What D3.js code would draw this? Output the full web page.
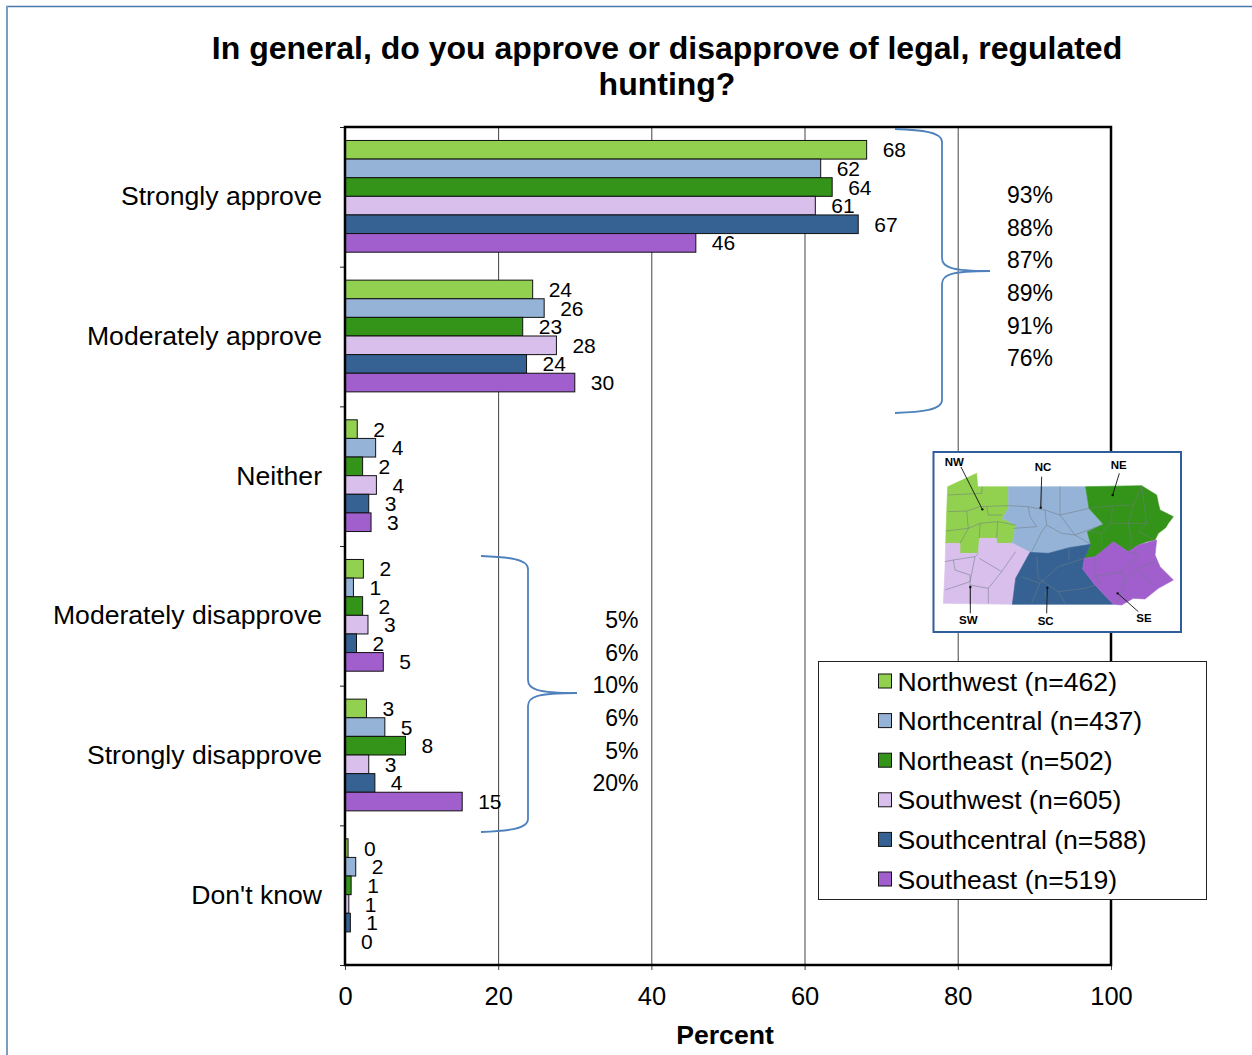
<!DOCTYPE html>
<html>
<head>
<meta charset="utf-8">
<script src="https://cdn.jsdelivr.net/npm/d3@7"></script>
<style>
html,body{margin:0;padding:0;background:#fff;overflow:hidden}
svg{display:block;font-family:"Liberation Sans",Arial,sans-serif;fill:#000}
</style>
</head>
<body>
<svg id="c" width="1252" height="1055"></svg>
<script>
const categories = ["Strongly approve","Moderately approve","Neither","Moderately disapprove","Strongly disapprove","Don't know"];
const regionNames = ["Northwest (n=462)","Northcentral (n=437)","Northeast (n=502)","Southwest (n=605)","Southcentral (n=588)","Southeast (n=519)"];
const regionKeys = ["NW","NC","NE","SW","SC","SE"];
const colors = ["#92d14f","#95b3d7","#339419","#d8bfec","#356293","#a05fcd"];
const northwest    = [68.1,24.5,1.6,2.4,2.8,0.4];
const northcentral = [62.1,26.0,4.0,1.1,5.2,1.4];
const northeast    = [63.6,23.2,2.3,2.3,7.9,0.8];
const southwest    = [61.4,27.6,4.1,3.0,3.1,0.5];
const southcentral = [67.0,23.7,3.1,1.5,3.9,0.7];
const southeast    = [45.8,30.0,3.4,5.0,15.3,0.0];
const labelsNW = [68,24,2,2,3,0];
const labelsNC = [62,26,4,1,5,2];
const labelsNE = [64,23,2,2,8,1];
const labelsSW = [61,28,4,3,3,1];
const labelsSC = [67,24,3,2,4,1];
const labelsSE = [46,30,3,5,15,0];
const approveTotals = ["93%","88%","87%","89%","91%","76%"];
const disapproveTotals = ["5%","6%","10%","6%","5%","20%"];
const xTicks = [0,20,40,60,80,100];
const series = [northwest,northcentral,northeast,southwest,southcentral,southeast];
const labels = [labelsNW,labelsNC,labelsNE,labelsSW,labelsSC,labelsSE];

// map outlines, in the map's own 795 x 585 drawing units
const mapRegions = {
  NW:[[68,125],[155,85],[158,125],[250,125],[250,190],[232,220],[272,240],[262,295],[215,295],[215,280],[163,280],[160,325],[105,325],[105,295],[62,295],[65,200]],
  NC:[[250,125],[482,125],[492,190],[535,238],[487,260],[497,298],[432,308],[370,325],[315,322],[262,295],[272,240],[232,220],[250,190]],
  NE:[[482,125],[650,122],[672,136],[695,150],[700,175],[705,195],[725,205],[745,215],[730,235],[722,248],[700,265],[690,285],[665,290],[640,300],[610,320],[565,290],[545,310],[510,335],[478,340],[497,298],[487,260],[535,238],[492,190]],
  SW:[[62,295],[105,295],[105,325],[160,325],[163,280],[215,280],[215,295],[262,295],[315,322],[272,400],[262,478],[55,475],[60,370]],
  SC:[[315,322],[370,325],[432,308],[497,298],[478,340],[473,372],[510,420],[565,478],[262,478],[272,400]],
  SE:[[478,340],[510,335],[565,290],[610,320],[640,300],[695,285],[690,330],[705,365],[745,405],[700,430],[660,462],[625,460],[590,480],[565,478],[510,420],[473,372]]
};
const countyLines = [
  [[68,200],[125,198],[165,185],[250,182]],[[68,150],[170,145],[172,125]],[[125,198],[130,250],[105,295]],[[62,258],[130,250],[165,235],[218,230],[272,240]],[[165,235],[163,280]],[[218,230],[215,280]],[[185,185],[190,210],[232,210]],
  [[250,182],[310,185],[360,195],[405,210],[492,190]],[[310,185],[315,215],[335,245],[265,250]],[[405,125],[405,210],[450,270],[497,298]],[[360,195],[365,240],[350,260],[320,320]],[[365,240],[410,265],[450,270],[535,238]],[[350,125],[350,190]],
  [[492,190],[565,182],[625,180],[650,122]],[[565,182],[555,235],[530,265],[495,258]],[[625,180],[610,235],[555,235]],[[650,122],[665,235],[610,235]],[[530,265],[530,310]],[[610,235],[620,290],[610,320]],[[665,235],[640,260],[690,285]],
  [[60,350],[85,345],[150,335],[160,325]],[[85,345],[90,375],[135,390],[135,478]],[[150,335],[135,410],[60,435]],[[163,340],[230,380],[272,320]],[[230,380],[190,430],[190,475]],[[135,420],[190,430]],
  [[478,340],[400,365],[345,415],[320,475]],[[335,335],[340,400],[400,440],[420,475]],[[432,308],[432,345]],[[400,440],[480,430],[510,420]],[[345,415],[290,395]],[[360,440],[370,478]],
  [[510,335],[510,395],[590,380],[640,330],[610,320]],[[590,380],[600,410],[640,370],[690,350]],[[600,410],[575,478]],[[640,370],[680,420]],[[510,395],[530,420]]
];
const mapTexts = [["NW",88,52],["NC",354,67],["NE",581,60],["SW",130,526],["SC",362,527],["SE",657,520]];
const mapLeaders = [[[108,66],[172,193]],[[350,95],[347,188]],[[583,85],[563,150]],[[136,505],[136,426]],[[365,505],[367,428]],[[640,500],[578,445]]];

const svg = d3.select("#c");
const m = {l:345,r:1111,t:127,b:965};
const x = d3.scaleLinear().domain([0,100]).range([m.l,m.r]);
const y = d3.scaleBand().domain(categories).range([m.t-0.5,m.b-0.5]).paddingInner(0.2).paddingOuter(0.1);
const inner = d3.scaleBand().domain(d3.range(6)).range([0,y.bandwidth()]);
const ticksY = d3.scaleLinear().domain([0,6]).range([m.t,m.b]);

// page frame
svg.append("line").attr("x1",6).attr("x2",1252).attr("y1",6.5).attr("y2",6.5).attr("stroke","#4a78aa").attr("stroke-width",1.5);
svg.append("line").attr("x1",7).attr("x2",7).attr("y1",6).attr("y2",1055).attr("stroke","#7d9dbd").attr("stroke-width",2);

// grid
svg.append("g").selectAll("line").data(xTicks.slice(1,-1)).join("line")
  .attr("x1",d=>x(d)+0.4).attr("x2",d=>x(d)+0.4).attr("y1",m.t).attr("y2",m.b)
  .attr("stroke","#444").attr("stroke-width",1);

// bars
const groups = svg.append("g").selectAll("g").data(categories).join("g")
  .attr("transform",c=>`translate(0,${y(c)})`);
groups.each(function(c,ci){
  const g = d3.select(this);
  g.selectAll("rect").data(series.map((s,i)=>({v:s[ci],i}))).join("rect")
    .attr("x",x(0)).attr("y",d=>inner(d.i)).attr("width",d=>x(d.v)-x(0)).attr("height",inner.bandwidth())
    .attr("fill",d=>colors[d.i]).attr("stroke","#111").attr("stroke-width",1);
  g.selectAll("text").data(series.map((s,i)=>({v:s[ci],l:labels[i][ci],i}))).join("text")
    .attr("x",d=>x(d.v)+16).attr("y",d=>inner(d.i)+inner.bandwidth()/2)
    .attr("dy","0.36em").attr("font-size",21).text(d=>d.l);
});

// axes
const xAxis = d3.axisBottom(x).tickValues(xTicks).tickSize(5).tickPadding(17);
const gx = svg.append("g").attr("transform",`translate(0,${m.b})`).call(xAxis);
gx.select(".domain").remove();
gx.selectAll("line").attr("stroke","#444");
gx.selectAll("text").attr("font-size",25.5).attr("font-family","inherit").attr("fill","#000");
const yAxis = d3.axisLeft(ticksY).tickValues(d3.range(7)).tickSize(5).tickFormat("");
const gy = svg.append("g").attr("transform",`translate(${m.l},0)`).call(yAxis);
gy.select(".domain").remove();
gy.selectAll("line").attr("stroke","#222");
svg.append("g").selectAll("text").data(categories).join("text")
  .attr("x",322).attr("y",c=>y(c)+y.bandwidth()/2-0.7)
  .attr("dy","0.36em").attr("text-anchor","end").attr("font-size",26.6).text(c=>c);

// plot frame
svg.append("rect").attr("x",m.l).attr("y",m.t).attr("width",m.r-m.l).attr("height",m.b-m.t)
  .attr("fill","none").attr("stroke","#000").attr("stroke-width",2.5);

// title
svg.append("text").attr("x",667).attr("y",59).attr("text-anchor","middle").attr("font-size",32).attr("font-weight","bold").text("In general, do you approve or disapprove of legal, regulated");
svg.append("text").attr("x",667).attr("y",95).attr("text-anchor","middle").attr("font-size",32).attr("font-weight","bold").text("hunting?");
svg.append("text").attr("x",725).attr("y",1044).attr("text-anchor","middle").attr("font-size",26.6).attr("font-weight","bold").text("Percent");

// braces
function drawBrace(x0,xm,xt,y0,ym,y1){
  const p = d3.path();
  p.moveTo(x0,y0);
  p.bezierCurveTo(xm-20,y0+1,xm,y0+3,xm,y0+13);
  p.lineTo(xm,ym-13);
  p.bezierCurveTo(xm,ym-4,xm+8,ym,xt,ym);
  p.bezierCurveTo(xm+8,ym,xm,ym+4,xm,ym+13);
  p.lineTo(xm,y1-13);
  p.bezierCurveTo(xm,y1-3,xm-20,y1-1,x0,y1);
  svg.append("path").attr("d",p.toString()).attr("fill","none").attr("stroke","#4f81bd").attr("stroke-width",1.8);
}
drawBrace(895,942,990,129,271,413);
drawBrace(481,528,577,556,693,832);

// bracket totals
const totalY1 = d3.scalePoint().domain(d3.range(6)).range([195,358]);
const totalY2 = d3.scalePoint().domain(d3.range(6)).range([620,783]);
svg.append("g").selectAll("text").data(approveTotals).join("text")
  .attr("x",1030).attr("y",(d,i)=>totalY1(i)).attr("dy","0.36em").attr("text-anchor","middle").attr("font-size",23).text(d=>d);
svg.append("g").selectAll("text").data(disapproveTotals).join("text")
  .attr("x",638.5).attr("y",(d,i)=>totalY2(i)).attr("dy","0.36em").attr("text-anchor","end").attr("font-size",23).text(d=>d);

// map
const mx = d3.scaleLinear().domain([0,795]).range([925,1190]);
const my = d3.scaleLinear().domain([0,585]).range([445,640]);
const mapLine = d3.line().x(d=>mx(d[0])).y(d=>my(d[1]));
const mapG = svg.append("g");
mapG.append("rect").attr("x",933.5).attr("y",452).attr("width",247.5).attr("height",180)
  .attr("fill","#fff").attr("stroke","#2f5f9a").attr("stroke-width",2);
regionKeys.forEach((k,i)=>{
  mapG.append("path").attr("d",mapLine(mapRegions[k])+"Z").attr("fill",colors[i]).attr("stroke",colors[i]).attr("stroke-width",.6);
});
mapG.selectAll(".county").data(countyLines).join("path").attr("class","county")
  .attr("d",mapLine).attr("fill","none").attr("stroke","#6f7a80").attr("stroke-width",.7).attr("stroke-opacity",.75);
mapG.selectAll(".leader").data(mapLeaders).join("path").attr("class","leader")
  .attr("d",mapLine).attr("fill","none").attr("stroke","#111").attr("stroke-width",.9);
mapG.selectAll(".dot").data(mapLeaders).join("circle").attr("class","dot")
  .attr("cx",d=>mx(d[1][0])).attr("cy",d=>my(d[1][1])).attr("r",1.2).attr("fill","#111");
mapG.selectAll("text").data(mapTexts).join("text")
  .attr("x",d=>mx(d[1])).attr("y",d=>my(d[2])).attr("dy","0.36em").attr("text-anchor","middle")
  .attr("font-size",11.5).attr("font-weight","bold").text(d=>d[0]);

// legend
const ly = d3.scalePoint().domain(regionNames).range([681,879]);
const leg = svg.append("g");
leg.append("rect").attr("x",818.5).attr("y",661.5).attr("width",388).attr("height",238)
  .attr("fill","#fff").attr("stroke","#222").attr("stroke-width",1);
leg.selectAll("rect.s").data(regionNames).join("rect").attr("class","s")
  .attr("x",878.5).attr("y",n=>ly(n)-7).attr("width",13).attr("height",14)
  .attr("fill",(n,i)=>colors[i]).attr("stroke","#111").attr("stroke-width",1);
leg.selectAll("text").data(regionNames).join("text")
  .attr("x",897.5).attr("y",n=>ly(n)).attr("dy","0.36em").attr("font-size",26.6).text(n=>n);
</script>
</body>
</html>
